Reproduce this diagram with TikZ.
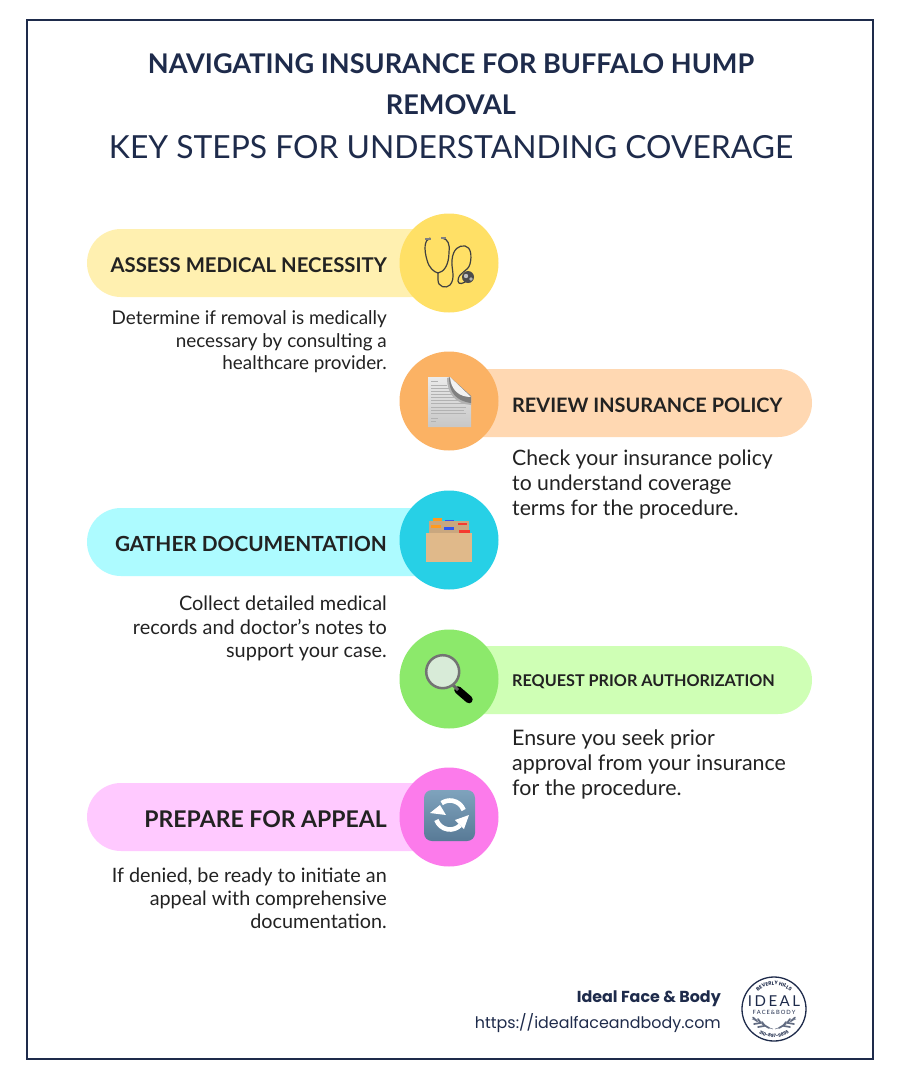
\documentclass[tikz,border=0pt]{standalone}
\usepackage{fontspec}
\setmainfont{Lato}
\newfontfamily\pop{Poppins}
\usetikzlibrary{decorations.text,arrows.meta,calc}
\definecolor{navy}{HTML}{1E2B4B}
\definecolor{ink}{HTML}{222222}
\definecolor{yA}{HTML}{FFF0B0}\definecolor{yB}{HTML}{FFE066}
\definecolor{oA}{HTML}{FFD8B2}\definecolor{oB}{HTML}{FBB264}
\definecolor{cA}{HTML}{ADFBFF}\definecolor{cB}{HTML}{27D0E6}
\definecolor{gA}{HTML}{CFFFB5}\definecolor{gB}{HTML}{8CE96B}
\definecolor{pA}{HTML}{FFC9FF}\definecolor{pB}{HTML}{FC7BEB}
\definecolor{tan}{HTML}{E0B98A}\definecolor{tanD}{HTML}{C9A77F}
\definecolor{tabO}{HTML}{FF9A1F}\definecolor{tabB}{HTML}{2F55F0}\definecolor{tabR}{HTML}{F53A30}
\definecolor{tileT}{HTML}{7FA3BD}\definecolor{tileB}{HTML}{587A96}
\tikzset{
  x=1pt,y=-1pt,
  disc/.style={circle,minimum size=99pt,inner sep=0pt,draw=none},
  head/.style={font=\fontsize{20.3}{24}\selectfont\bfseries\color{ink},inner sep=0pt},
  body/.style={inner sep=0pt,align=left},
  bodyr/.style={inner sep=0pt,align=right},
  leaf/.style={navy!70,line width=1.7pt,line cap=round},
}
\begin{document}
\begin{tikzpicture}
\useasboundingbox (0,0) rectangle (900,1080);
\fill[white] (0,0) rectangle (900,1080);
\draw[navy,line width=2pt] (27,20) rectangle (873,1059);
\node[font=\fontsize{27.1}{30}\selectfont\bfseries\color{navy},inner sep=0pt] (t1) at (451,64) {NAVIGATING INSURANCE FOR BUFFALO HUMP};
\node[font=\fontsize{27.1}{30}\selectfont\bfseries\color{navy},inner sep=0pt] (t2) at (451,105) {REMOVAL};
\node[font=\fontsize{31.8}{36}\selectfont\color{navy},inner sep=0pt] (t3) at (451,147) {KEY STEPS FOR UNDERSTANDING COVERAGE};
\fill[yA] (420,229) -- (121,229) arc[start angle=-90,end angle=-270,radius=34] -- (420,297) -- cycle;
\fill[cA] (420,508) -- (121,508) arc[start angle=-90,end angle=-270,radius=34] -- (420,576) -- cycle;
\fill[pA] (420,783) -- (121,783) arc[start angle=-90,end angle=-270,radius=34] -- (420,851) -- cycle;
\fill[oA] (470,369) -- (778,369) arc[start angle=-90,end angle=90,radius=34] -- (470,437) -- cycle;
\fill[gA] (470,646) -- (778,646) arc[start angle=-90,end angle=90,radius=34] -- (470,714) -- cycle;
\node[disc,fill=yB] (c1) at (449,263) {};
\node[disc,fill=oB] (c2) at (449,401) {};
\node[disc,fill=cB] (c3) at (449,540) {};
\node[disc,fill=gB] (c4) at (449,679) {};
\node[disc,fill=pB] (c5) at (449,817) {};
\node[head,anchor=east] (h1) at (387,265) {ASSESS MEDICAL NECESSITY};
\node[head,anchor=west,font=\fontsize{19.9}{24}\selectfont\bfseries\color{ink}] (h2) at (512,405) {REVIEW INSURANCE POLICY};
\node[head,anchor=east,font=\fontsize{20.8}{24}\selectfont\bfseries\color{ink}] (h3) at (387,544) {GATHER DOCUMENTATION};
\node[head,anchor=west,font=\fontsize{16.2}{18}\selectfont\bfseries\color{ink}] (h4) at (512,682) {REQUEST PRIOR AUTHORIZATION};
\node[head,anchor=east,font=\fontsize{23}{24}\selectfont\bfseries\color{ink}] (h5) at (387,819) {PREPARE FOR APPEAL};
\node[bodyr,anchor=north east,font=\fontsize{18.9}{22.4}\selectfont\color{ink}] (b1) at (387,310.5) {Determine if removal is medically\\necessary by consulting a\\healthcare provider.};
\node[body,anchor=north west,font=\fontsize{21.2}{25}\selectfont\color{ink}] (b2) at (512,450) {Check your insurance policy\\to understand coverage\\terms for the procedure.};
\node[bodyr,anchor=north east,font=\fontsize{19.9}{23.2}\selectfont\color{ink}] (b3) at (387,596) {Collect detailed medical\\records and doctor\char39 s notes to\\support your case.};
\node[body,anchor=north west,font=\fontsize{21.4}{25}\selectfont\color{ink}] (b4) at (512,730) {Ensure you seek prior\\approval from your insurance\\for the procedure.};
\node[bodyr,anchor=north east,font=\fontsize{19.8}{23}\selectfont\color{ink}] (b5) at (387,868) {If denied, be ready to initiate an\\appeal with comprehensive\\documentation.};
\node[anchor=east,inner sep=0pt,font=\pop\fontsize{15.9}{18}\selectfont\bfseries\color{navy}] (f1) at (721,998.5) {Ideal Face \& Body};
\node[anchor=east,inner sep=0pt,font=\pop\fontsize{15.9}{18}\selectfont\color{navy}] (f2) at (721,1023) {https://idealfaceandbody.com};
% stethoscope
\draw[line width=1.2pt,color=black!75,line cap=round] (430,238) .. controls (424,240) and (424,250) .. (427,260) .. controls (429,268) and (434,272) .. (438,273) .. controls (444,272) and (449,265) .. (449,252) .. controls (450,244) and (448,239) .. (442,238);
\draw[line width=1.2pt,color=black!75] (438,273) -- (438,280) .. controls (438,287) and (446,289) .. (450,285) .. controls (456,278) and (451,268) .. (452,260) .. controls (453,249) and (459,245) .. (465,246) .. controls (471,247) and (472,256) .. (470,264) .. controls (468,272) and (458,272) .. (458,281) .. controls (458,285) and (464,284) .. (467,280);
\fill[black!50] (425,238) rectangle (431,240); \fill[black!50] (441,237) rectangle (446,239);
\fill[black!70] (468,277) circle[radius=6];
\fill[black!25] (466,276) circle[radius=2.2];\fill[black!30] (471,279) circle[radius=1.8];
% document
\shade[top color=black!8,bottom color=black!22] (428,377) -- (450,377) -- (471,397) -- (471,427) -- (428,427) -- cycle;
\foreach \yy/\xe in {381/438,385/447,388/449,391/451,394/453,397/455,400/459,403/466,407/466,410/464,413/466,418/438,421/436}{\draw[black!30,line width=.5pt] (431,\yy) -- (\xe,\yy);}
\fill[black!30] (447,378) .. controls (447,394) and (456,404) .. (471,405) -- (471,396) -- (450,377) -- cycle;
\fill[black!50] (449,378) .. controls (449,392) and (456,401) .. (471,403) -- (471,396) -- (450,377) -- cycle;
\fill[black!5] (450,377) -- (471,397) .. controls (459,397) and (451,390) .. (450,377) -- cycle;
% folder
\fill[tabO] (433,518) rectangle (442,522);
\fill[tabB] (445,520) rectangle (454,524);
\fill[tanD] (429,521) rectangle (469,533);
\fill[tabR] (458,522.5) rectangle (467,525);
\fill[tabO] (431,525) rectangle (441,527.5);
\fill[tabB] (444,527) rectangle (454,530);
\fill[tabR] (459,530) rectangle (470,533);
\fill[tan] (426,533) rectangle (472,562);
% magnifier
\draw[black,line width=7.5pt,line cap=round] (458,690) -- (469,699.5);
\draw[black!60,line width=3pt] (452,684) -- (458,690);
\fill[green!8!white!92!black] (442.7,671.7) circle[radius=16];
\draw[black!55,line width=2.5pt] (442.7,671.7) circle[radius=16.5];
% refresh tile
\shade[rounded corners=8pt,top color=tileT,bottom color=tileB] (424,790) rectangle (475,841);
\draw[white,line width=4.6pt] (450,815) ++(-20:14.5) arc[start angle=-20,end angle=-125,radius=14.5];
\fill[white] (430,813) -- (440,805) -- (446,815) -- cycle;
\draw[white,line width=4.6pt] (450,815) ++(160:14.5) arc[start angle=160,end angle=45,radius=14.5];
\fill[white] (469,815) -- (455,820) -- (464,829) -- cycle;
% logo
\draw[navy,line width=1.3pt,fill=white] (774,1009) circle[radius=32];
\path[decorate,decoration={text along path,text align=center,text={|\pop\fontsize{5}{6}\selectfont\bfseries\color{navy}|BEVERLY HILLS}}] (774,1009) ++(-150:24) arc[start angle=-150,end angle=-30,radius=24];
\node[inner sep=0pt,font=\fontsize{15}{16}\selectfont\color{navy}] (l1) at (774,1001.5) {I\,D\,E\,A\,L};
\node[inner sep=0pt,font=\fontsize{5.8}{6}\selectfont\color{navy}] (l2) at (774,1012.5) {F\,A\,C\,E\,\&\,B\,O\,D\,Y};
\draw[navy!70,line width=.5pt] (773,1029) .. controls (765,1027) and (760,1022) .. (752,1019);
\draw[navy!70,line width=.5pt] (775,1029) .. controls (783,1027) and (788,1022) .. (796,1019);
\foreach \px/\py/\dx/\dy in {757/1021/-4/-3.5,761/1023/-3/-4,765/1026/-3/-4,760/1023/-6/1,764/1026/-6/1,769/1028/-5/-3}{
  \draw[leaf] (\px,\py) -- ++(\dx,\dy);
  \draw[leaf] (1548-\px,\py) -- ++(-\dx,\dy);
}
\path[decorate,decoration={text along path,text align=center,text={|\pop\fontsize{4.5}{6}\selectfont\bfseries\color{navy}|310-897-9895}}] (774,1009) ++(145:28.5) arc[start angle=145,end angle=35,radius=28.5];
\end{tikzpicture}
\end{document}
